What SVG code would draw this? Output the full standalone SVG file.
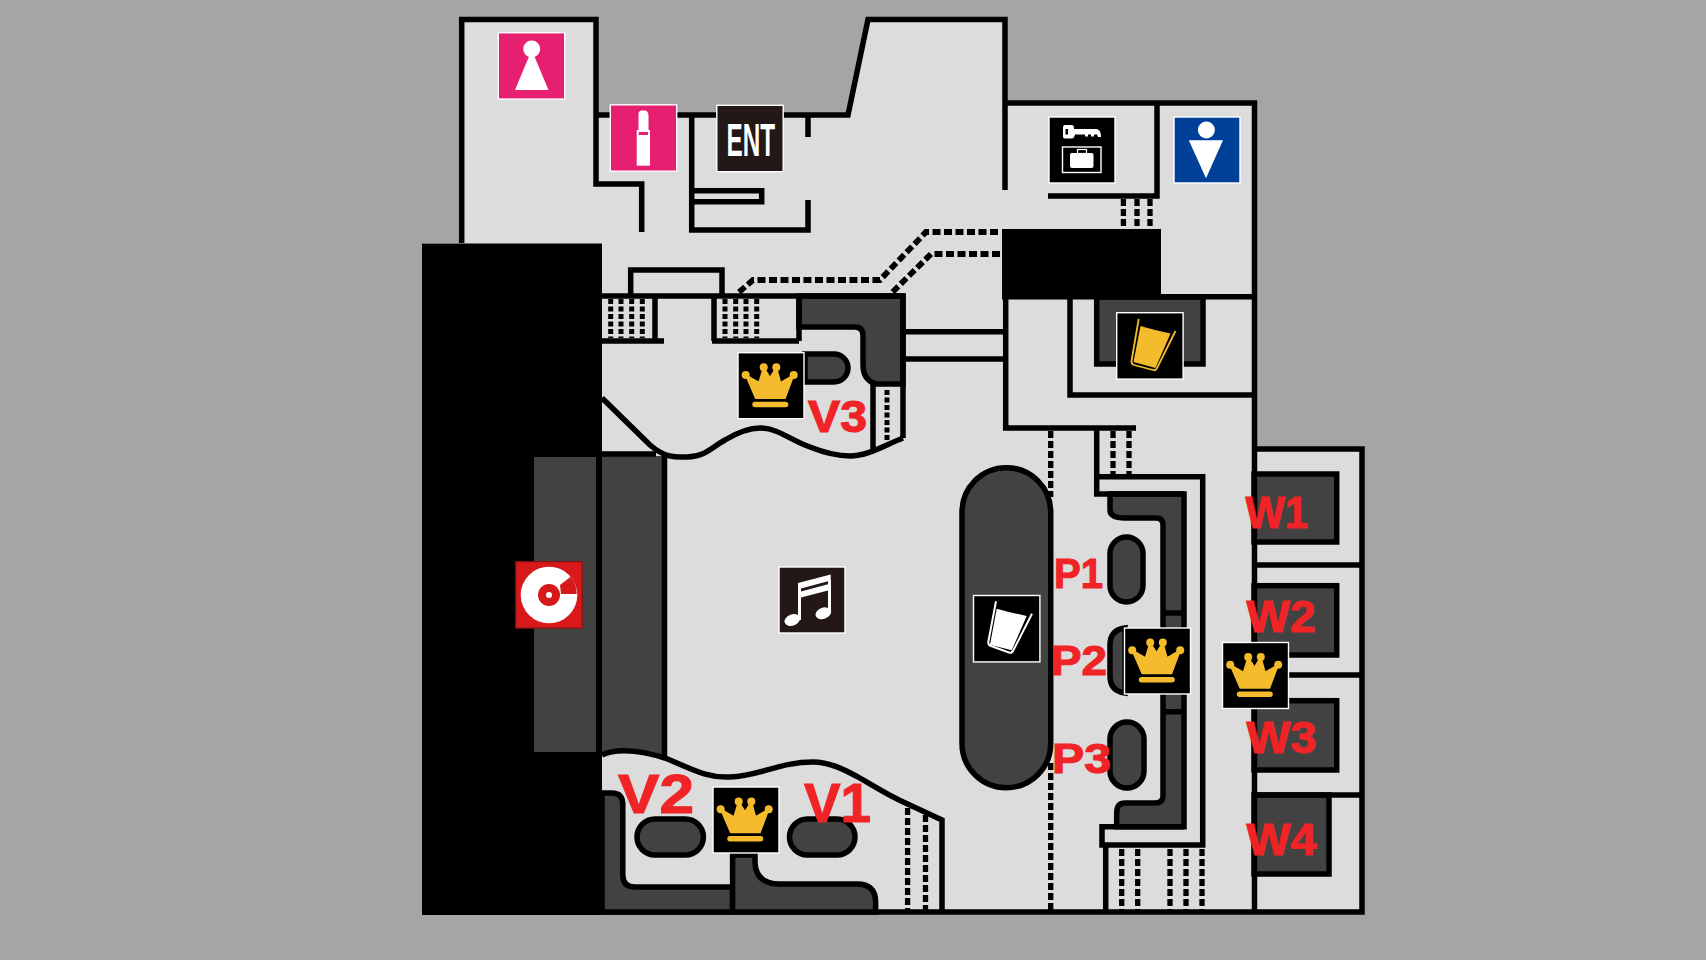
<svg xmlns="http://www.w3.org/2000/svg" xmlns:xlink="http://www.w3.org/1999/xlink" width="1706" height="960" viewBox="0 0 1706 960">
<style>
.floor{fill:#dcdcdc}
.wall{fill:none;stroke:#000;stroke-width:5.5;stroke-linejoin:miter}
.dark{fill:#424242;stroke:#000;stroke-width:5.5}
.darkf{fill:#424242}
.dash{fill:none;stroke:#000;stroke-width:5.8;stroke-dasharray:8 3.5}
.dashl{fill:none;stroke:#000;stroke-width:5.3;stroke-dasharray:7 3}
.grid{fill:none;stroke:#000;stroke-width:5;stroke-dasharray:5 2.5}
.ico{stroke:#fff;stroke-width:1.4}
.w{fill:#fff}
.gold{fill:#f4bc2c}
.lab{font-family:"Liberation Sans",Arial,sans-serif;font-weight:700;fill:#f02327;stroke:#f02327;stroke-width:1.1}
</style>
<defs>
<g id="crown">
<rect class="ico" width="66" height="66" fill="#000"/>
<path class="gold" stroke="#f4bc2c" stroke-width="1.6" stroke-linejoin="round" d="M7.7,22.3 L17.7,45.5 H47 L55.7,22.3 L42.5,30 L38.3,14.6 L32,25 L25.7,14.6 L21,30 Z"/>
<circle class="gold" cx="7.7" cy="22.3" r="4"/><circle class="gold" cx="25.7" cy="14.6" r="4"/><circle class="gold" cx="38.3" cy="14.6" r="4"/><circle class="gold" cx="55.7" cy="22.3" r="4"/>
<rect class="gold" x="14.3" y="49" width="36" height="5.5" rx="2.7"/>
</g>
</defs>
<rect id="background" width="1706" height="960" fill="#a5a5a5"/>
<path id="floor" class="floor" d="M461.7,19.5 H596 V115 H848 L868,19.5 H1005 V103 H1254.5 V449 H1362 V912 H422 V243 H461.7 Z"/>

<g id="dark-areas">
<rect x="1096.7" y="297" width="106.3" height="67" class="dark"/>
<rect x="1254" y="474" width="82.7" height="68" class="dark"/>
<rect x="1254" y="585.7" width="82.7" height="69.3" class="dark"/>
<rect x="1254" y="700.7" width="82.7" height="69.3" class="dark"/>
<rect x="1254" y="795" width="75" height="79" class="dark"/>
<path class="dark" d="M1110,494 V510 Q1110,518 1125,518 H1156 Q1163,518 1163,525 V796 Q1163,803 1155,803 H1125 Q1116.7,803 1116.7,813 V826.7 H1184 V494 Z"/>
<path class="dark" d="M799,296 H903 V384 H876 Q863,380 863,365 V336 Q863,327 855,327 H799 Z"/>
<rect x="962" y="467.7" width="88.7" height="320" rx="44.3" class="dark"/>
</g>

<g id="black-blocks">
<rect x="422" y="243.5" width="180" height="671.5" fill="#000"/>
<rect x="1002" y="229" width="159" height="67" fill="#000"/>
<rect class="darkf" x="534" y="457" width="62" height="295"/>
<path class="darkf" d="M602,456 H664.5 V758 C640,750 622,748 602,755 Z"/>
</g>

<g id="walls">
<path class="wall" d="M461.7,243 V19.5 H596 V184 H641.7 V232"/>
<path class="wall" d="M596,115 H848 L868,19.5 H1005 V190"/>
<path class="wall" d="M1005,103 H1254.5 V449"/>
<path class="wall" d="M1157,103 V196 H1048"/>
<path class="wall" d="M691.7,115 V230 H808 V200"/>
<path class="wall" d="M808,115 V137"/>
<path class="wall" d="M691.7,190.7 H761.7 V201.7 H691.7"/>
<path class="wall" d="M630.7,296 V270 H722 V296"/>
<path class="wall" d="M602,296 H903 V438"/>
<path class="wall" d="M602,341 H664 M655,296 V341 M712,341 H799 M714,296 V341 M799,296 V341"/>
<path class="wall" d="M903,331.7 H1004 M903,359 H1004"/>
<path class="wall" d="M1002,296.7 H1254.5 M1005.7,296.7 V428 H1136"/>
<path class="wall" d="M1070,297 V395 H1254.5"/>
<path class="wall" d="M1254.5,449 V912"/>
<path class="wall" d="M1254,449 H1362 V912 H602"/>
<path class="wall" d="M1254,565 H1362 M1254,675 H1362 M1254,795 H1362"/>
<path class="wall" d="M1096.7,428 V494 H1184 M1096.7,476.7 H1202.7 V845 H1102 V826.7 H1184"/>
<path class="wall" d="M1105.7,845 V912"/>
<path class="wall" d="M1163,613 H1184 M1163,711.7 H1184"/>
<path class="wall" d="M602,454 H656"/>
<path class="wall" d="M664.5,456 V757"/>
<path class="wall" d="M602,398 L650,445 C665,458 675,457 687,457 C705,457 712,447 725,440 C740,431 750,428 760,428 C778,428 790,440 810,447 C825,453 838,456 850,456 C868,456 885,445 903,438"/>
<path class="wall" d="M873,384 V449"/>
<path class="wall" d="M602,755 C612,750 632,748 665,758 C690,768 705,778 730,777 C760,776 780,762 813,762 C830,762 845,770 858,777 C875,787 890,796 899,800 L942,820 V912"/>
<path class="dark" d="M602,793 H612 Q622.8,793 622.8,805 V875 Q622.8,887 635,887 H732.6 V912 H602 Z"/>
<path class="dark" d="M732.6,855 H755 V863 Q756,884 780,884 H857 Q875.6,884 875.6,902 V912 H732.6 Z"/>
<path class="dark" d="M805,354 H834 A14,14 0 0 1 834,382 H805 Z"/>
<rect class="dark" x="637" y="819" width="66.4" height="36" rx="18"/>
<rect class="dark" x="789.5" y="819" width="65.5" height="36" rx="18"/>
<rect class="dark" x="1110" y="537" width="33" height="65" rx="16.5"/>
<path class="dark" d="M1125,628 Q1110,630 1110,645 V676 Q1110,691 1125,693 Z"/>
<rect class="dark" x="1110" y="722" width="34" height="66" rx="17"/>
</g>

<g id="stairs">
<path class="dash" d="M998,232 H926 L880,280 H753 L738,293"/>
<path class="dash" d="M1000,254 H931 L891.6,293"/>
<path class="dashl" d="M1123.4,199 V229 M1137,199 V229 M1150,199 V229"/>
<path class="grid" d="M610.7,299 V338 M621,299 V338 M631.7,299 V338 M642.3,299 V338 M725,299 V338 M735.7,299 V338 M746,299 V338 M756.7,299 V338"/>
<path class="grid" d="M887,390 V441"/>
<path class="dashl" d="M1050.7,431 V497 M1050.7,763 V910"/>
<path class="dashl" d="M1113,431 V474 M1129,431 V474"/>
<path class="dashl" d="M1121.7,849 V910 M1137.7,849 V910 M1170,849 V910 M1186,849 V910 M1202,849 V910"/>
<path class="dashl" d="M907.6,808 V910 M925.5,815 V910"/>
</g>

<g id="icon-women">
<rect class="ico" x="498.3" y="32.7" width="66.4" height="66.4" fill="#e61f71"/>
<circle class="w" cx="531.7" cy="49" r="8.5"/>
<path class="w" d="M531.7,50 L548.5,90 H515 Z"/>
</g>
<g id="icon-powder">
<rect class="ico" x="610.3" y="104.8" width="66.4" height="66.4" fill="#e61f71"/>
<path class="w" d="M638.5,130 V114 Q638.5,110.5 642,110.5 H645 Q648.5,111 648.5,116 V130 Z"/>
<rect class="w" x="636.7" y="130" width="13.3" height="35.7"/>
<rect x="638.7" y="132" width="9.3" height="3" fill="#e61f71"/>
</g>
<g id="icon-entrance">
<rect class="ico" x="716.8" y="105.3" width="66.4" height="66.4" fill="#231815"/>
<text x="726.5" y="155.7" font-family="'Liberation Sans',Arial,sans-serif" font-weight="700" font-size="46" fill="#fff" textLength="48.5" lengthAdjust="spacingAndGlyphs">ENT</text>
</g>
<g id="icon-locker">
<rect class="ico" x="1049" y="117" width="66" height="66" fill="#000"/>
<path class="w" d="M1065,125 H1072 Q1074,125 1074,129 H1097 Q1101,130 1101,137 H1098 L1097,134.5 H1094 V136.5 H1091 V134.5 H1088 V136.5 H1085 V134.5 H1075 Q1074,138.5 1072,138.5 H1065 Q1063,138.5 1063,136.5 V127 Q1063,125 1065,125 Z"/>
<rect x="1065.5" y="129" width="2.5" height="5.5" fill="#000"/>
<rect x="1062.5" y="147" width="38.5" height="25.5" fill="none" stroke="#fff" stroke-width="1.4"/>
<rect class="w" x="1070" y="153" width="23.5" height="15" rx="2"/>
<rect x="1077.5" y="149.5" width="9" height="4" fill="none" stroke="#fff" stroke-width="1.2"/>
</g>
<g id="icon-men">
<rect class="ico" x="1174" y="117" width="66" height="66" fill="#004098"/>
<circle class="w" cx="1206.4" cy="130" r="8.5"/>
<path class="w" d="M1188.8,140.3 H1223 L1206,178.3 Z"/>
</g>
<g id="icon-drink-gold">
<rect class="ico" x="1116.7" y="312.7" width="66.4" height="66.4" fill="#000"/>
<path class="gold" d="M1140.5,326 C1150,329 1160,331 1170.5,333.5 L1155.5,368 L1133.5,362 Z"/>
<path d="M1138.7,319 L1131.5,361 Q1131,364 1134,365 L1153,370 Q1156,371 1157,368 L1175.5,331" fill="none" stroke="#f4bc2c" stroke-width="1.8"/>
</g>
<g id="icon-drink-white">
<rect class="ico" x="973.5" y="595.5" width="66.4" height="66.4" fill="#000"/>
<path class="w" d="M996.7,608.7 C1008,612 1018,614 1026.7,616 L1011.7,650.3 L990,644.7 Z"/>
<path d="M996,601.3 L988.3,642 Q988,645 991,646 L1009,652.5 Q1012,653.5 1013.5,650 L1032,613.7" fill="none" stroke="#fff" stroke-width="2"/>
</g>
<g id="icon-dj">
<rect x="515.7" y="561.7" width="66.4" height="66.4" fill="#d7191a" stroke="#8a1010" stroke-width="1.2"/>
<circle class="w" cx="549" cy="595" r="28.3"/>
<path d="M560,585 L570.7,576.7 A26,26 0 0 1 576.7,594 L561,594 Z" fill="#d7191a"/>
<circle cx="549" cy="595" r="11" fill="#d7191a"/>
<circle class="w" cx="549" cy="595" r="3"/>
</g>
<g id="icon-music">
<rect class="ico" x="779" y="567" width="66" height="66" fill="#231815"/>
<ellipse class="w" cx="792.3" cy="620" rx="8" ry="5.6" transform="rotate(-20 792.3 620)"/>
<ellipse class="w" cx="823.3" cy="613.3" rx="8" ry="5.6" transform="rotate(-20 823.3 613.3)"/>
<path class="w" d="M798,583 L830.7,574.4 V580.5 L801,588.5 V591.5 L828,584.3 V590.5 L801,597.5 V620 H798 Z"/>
<rect class="w" x="828" y="580" width="3" height="33"/>
</g>
<use id="crown-v3" href="#crown" xlink:href="#crown" x="738" y="352.7"/>
<use id="crown-v" href="#crown" xlink:href="#crown" x="713" y="787"/>
<use id="crown-p" href="#crown" xlink:href="#crown" x="1124.5" y="628"/>
<use id="crown-w" href="#crown" xlink:href="#crown" x="1222.5" y="642.5"/>

<g id="labels">
<text class="lab" x="808" y="431.7" font-size="44" textLength="59" lengthAdjust="spacingAndGlyphs">V3</text>
<text class="lab" x="618" y="813" font-size="56" textLength="76" lengthAdjust="spacingAndGlyphs">V2</text>
<text class="lab" x="804" y="822" font-size="55" textLength="67" lengthAdjust="spacingAndGlyphs">V1</text>
<text class="lab" x="1054" y="587.7" font-size="43" textLength="49" lengthAdjust="spacingAndGlyphs">P1</text>
<text class="lab" x="1051" y="675" font-size="43" textLength="56" lengthAdjust="spacingAndGlyphs">P2</text>
<text class="lab" x="1052" y="773" font-size="43" textLength="59" lengthAdjust="spacingAndGlyphs">P3</text>
<text class="lab" x="1245.5" y="528" font-size="44" textLength="62.5" lengthAdjust="spacingAndGlyphs">W1</text>
<text class="lab" x="1246.5" y="631.5" font-size="44" textLength="69" lengthAdjust="spacingAndGlyphs">W2</text>
<text class="lab" x="1246.5" y="753" font-size="44" textLength="70" lengthAdjust="spacingAndGlyphs">W3</text>
<text class="lab" x="1246.5" y="855" font-size="44" textLength="70" lengthAdjust="spacingAndGlyphs">W4</text>
</g>
</svg>
